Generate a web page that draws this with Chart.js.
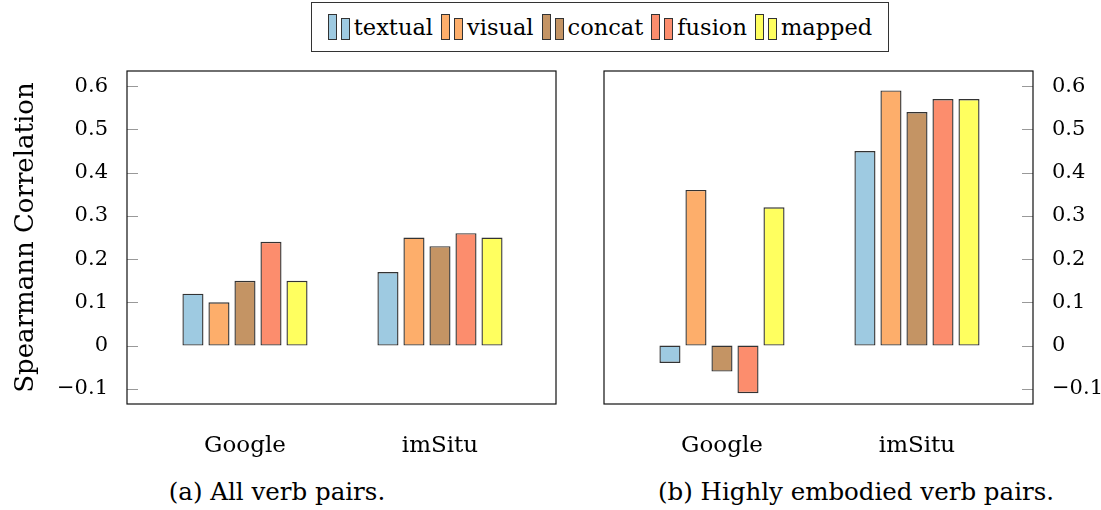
<!DOCTYPE html>
<html>
<head>
<meta charset="utf-8">
<script src="https://cdn.jsdelivr.net/npm/chart.js@4.4.1/dist/chart.umd.min.js"></script>
<style>
  body { margin: 0; background: #fff; width: 1101px; height: 510px; position: relative; overflow: hidden;
         font-family: "DejaVu Serif", serif; color: #000; }
  .panel { position: absolute; top: 0; height: 470px; }
  #legend { position: absolute; left: 311px; top: 2px; width: 576px; height: 48px; border: 1px solid #333;
            display: flex; align-items: center; justify-content: center; font-size: 22.5px; }
  .item { display: flex; align-items: center; margin: 0 4px; }
  .sw { width: 7px; border: 1px solid #333; margin-right: 4px; }
  .caption { position: absolute; top: 477px; font-size: 24.5px; transform: translateX(-50%); white-space: nowrap; }
</style>
</head>
<body>
<div id="legend"></div>
<div class="panel" style="left:0;width:570px"><canvas id="chartA" width="570" height="470"></canvas></div>
<div class="panel" style="left:590px;width:511px"><canvas id="chartB" width="511" height="470"></canvas></div>
<div class="caption" style="left:277px">(a) All verb pairs.</div>
<div class="caption" style="left:856px">(b) Highly embodied verb pairs.</div>
<script>
  const categories = ['Google', 'imSitu'];
  const seriesNames = ['textual', 'visual', 'concat', 'fusion', 'mapped'];
  const seriesColors = ['#9ecae1', '#fdae6b', '#c49464', '#fc8d6d', '#ffff5f'];
  const yTicks = [-0.1, 0, 0.1, 0.2, 0.3, 0.4, 0.5, 0.6];

  // (a) all verb pairs: [Google, imSitu] per series
  const allTextual = [0.12, 0.17];
  const allVisual  = [0.10, 0.25];
  const allConcat  = [0.15, 0.23];
  const allFusion  = [0.24, 0.26];
  const allMapped  = [0.15, 0.25];

  // (b) highly embodied verb pairs
  const embTextual = [-0.04, 0.45];
  const embVisual  = [0.36, 0.59];
  const embConcat  = [-0.06, 0.54];
  const embFusion  = [-0.11, 0.57];
  const embMapped  = [0.32, 0.57];

  // legend (two little bars per entry, like pgfplots ybar legend)
  const legend = document.getElementById('legend');
  seriesNames.forEach((name, i) => {
    const it = document.createElement('div');
    it.className = 'item';
    it.innerHTML = `<span class="sw" style="height:24px;background:${seriesColors[i]}"></span>` +
                   `<span class="sw" style="height:20px;margin-top:4px;background:${seriesColors[i]}"></span>` +
                   `<span>${name}</span>`;
    legend.appendChild(it);
  });

  const framePlugin = {
    id: 'frame',
    afterDraw(chart, args, opts) {
      const { ctx, chartArea: a, scales: { y } } = chart;
      ctx.save();
      ctx.strokeStyle = '#999';
      ctx.lineWidth = 1;
      y.ticks.forEach(t => {
        const py = Math.round(y.getPixelForValue(t.value)) + 0.5;
        ctx.beginPath();
        if (opts.side === 'left') { ctx.moveTo(a.left, py); ctx.lineTo(a.left + 11, py); }
        else { ctx.moveTo(a.right, py); ctx.lineTo(a.right - 11, py); }
        ctx.stroke();
      });
      ctx.strokeStyle = '#111';
      ctx.lineWidth = 1.2;
      ctx.strokeRect(a.left, a.top, a.right - a.left, a.bottom - a.top);
      ctx.restore();
    }
  };

  function fmt(v) {
    const r = Math.round(v * 10) / 10;
    return r < 0 ? '\u2212' + Math.abs(r) : String(r);
  }

  function makeChart(id, series, side, padding, yWidth) {
    const fam = 'DejaVu Serif';
    return new Chart(document.getElementById(id), {
      type: 'bar',
      data: {
        datasets: series.map((vals, i) => ({
          label: seriesNames[i],
          data: vals.map((v, j) => ({ x: j, y: v })),
          backgroundColor: seriesColors[i],
          borderColor: '#333',
          borderWidth: 1.4,
          borderSkipped: false,
          categoryPercentage: 0.667,
          barPercentage: 0.81
        }))
      },
      options: {
        responsive: false,
        animation: false,
        layout: { padding: padding },
        plugins: { legend: { display: false }, tooltip: { enabled: false }, frame: { side: side } },
        scales: {
          x: {
            type: 'linear',
            offset: false,
            bounds: 'data',
            min: -0.605,
            max: 1.595,
            grid: { display: false, offset: false },
            border: { display: false },
            afterDataLimits: s => { s.min = -0.605; s.max = 1.595; },
            afterBuildTicks: axis => { axis.ticks = categories.map((c, i) => ({ value: i })); },
            ticks: { color: '#000', font: { family: fam, size: 23 }, padding: 20, maxRotation: 0, callback: v => categories[v] },
            afterFit: s => { s.height = 66; }
          },
          y: {
            position: side,
            min: -0.135,
            max: 0.635,
            grid: { display: false },
            border: { display: false },
            afterBuildTicks: axis => { axis.ticks = yTicks.map(v => ({ value: v })); },
            ticks: { color: '#000', font: { family: fam, size: 21 }, padding: 11, callback: v => fmt(v) },
            title: side === 'left'
              ? { display: true, text: 'Spearmann Correlation', color: '#000', font: { family: fam, size: 26 }, padding: { top: 11, bottom: 4 } }
              : { display: false },
            afterFit: s => { s.width = yWidth; }
          }
        }
      },
      plugins: [framePlugin]
    });
  }

  makeChart('chartA', [allTextual, allVisual, allConcat, allFusion, allMapped], 'left',
            { top: 71, right: 14, left: 0, bottom: 0 }, 127);
  makeChart('chartB', [embTextual, embVisual, embConcat, embFusion, embMapped], 'right',
            { top: 71, right: 0, left: 14, bottom: 0 }, 68);
</script>
</body>
</html>
